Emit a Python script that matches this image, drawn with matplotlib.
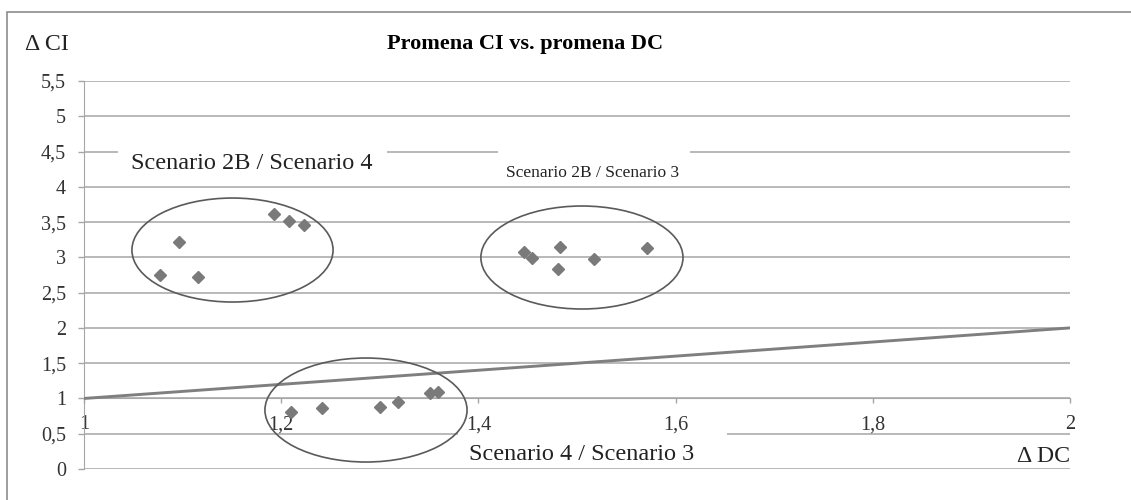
import numpy as np
import matplotlib
matplotlib.use('Agg')
from matplotlib import pyplot as plt
from matplotlib.patches import Ellipse, Rectangle
from matplotlib.ticker import FuncFormatter

# Promena CI vs. promena DC - three scenario comparisons
g1_x = [1.077, 1.096, 1.116, 1.193, 1.208, 1.223]   # Scenario 2B / Scenario 4
g1_y = [2.75, 3.22, 2.72, 3.61, 3.51, 3.46]
g2_x = [1.446, 1.454, 1.483, 1.481, 1.517, 1.571]   # Scenario 2B / Scenario 3
g2_y = [3.07, 2.99, 3.14, 2.83, 2.97, 3.13]
g3_x = [1.210, 1.241, 1.300, 1.318, 1.351, 1.359]   # Scenario 4 / Scenario 3
g3_y = [0.81, 0.86, 0.88, 0.945, 1.08, 1.087]
ref_x = [1, 2]
ref_y = [1, 2]

x_ticks = [1, 1.2, 1.4, 1.6, 1.8, 2]
y_ticks = [0, 0.5, 1, 1.5, 2, 2.5, 3, 3.5, 4, 4.5, 5, 5.5]

# group ellipses (center x, center y, width, height) in data units
ellipses = [(1.1506, 3.104, 0.204, 1.474),
            (1.505, 2.998, 0.205, 1.46),
            (1.286, 0.836, 0.205, 1.474)]

W, H = 1131, 500
plt.rcParams['font.family'] = ['Liberation Serif', 'DejaVu Serif']

fig = plt.figure(figsize=(W / 100, H / 100), dpi=100)
ax = fig.add_axes([84 / W, 1 - 469 / H, (1070 - 84) / W, (469 - 81) / H])


def px_rect(x0, y0, x1, y1):
    # white box in figure pixels (top-down)
    r = Rectangle((x0 / W, 1 - y1 / H), (x1 - x0) / W, (y1 - y0) / H,
                  transform=fig.transFigure, facecolor='white', edgecolor='none', zorder=1)
    ax.add_artist(r)
    r.set_clip_on(False)


gc = '#a6a6a6'
ax.hlines(y_ticks, 1, 2, colors=gc, lw=1.1, zorder=0.5)

px_rect(118, 145, 387, 184)
px_rect(498, 146, 690, 185)
px_rect(458, 425, 727, 466)

ax.plot(ref_x, ref_y, color='#7f7f7f', lw=2.1, zorder=3, solid_capstyle='butt')
for gx, gy in [(g1_x, g1_y), (g2_x, g2_y), (g3_x, g3_y)]:
    ax.plot(gx, gy, ls='none', marker='D', ms=6.5, color='#7a7a7a', zorder=4)

for cx, cy, ew, eh in ellipses:
    ax.add_patch(Ellipse((cx, cy), ew, eh, fill=False, edgecolor='#5a5a5a', lw=1.2, zorder=5))

ax.set_xlim(1, 2)
ax.set_ylim(0, 5.5)
ax.set_xticks(x_ticks)
ax.set_yticks(y_ticks)
fmt = FuncFormatter(lambda v, p: ('%g' % v).replace('.', ','))
ax.xaxis.set_major_formatter(fmt)
ax.yaxis.set_major_formatter(fmt)

for s in ['top', 'right']:
    ax.spines[s].set_visible(False)
ax.spines['left'].set_color(gc)
ax.spines['bottom'].set_color(gc)
ax.spines['bottom'].set_position(('data', 1))
ax.spines['bottom'].set_zorder(0.6)
ax.tick_params(axis='y', direction='out', length=4.5, width=1, color=gc,
               labelsize=14.5, labelcolor='#333333', pad=8.5)
ax.tick_params(axis='x', direction='out', length=3.5, width=1, color=gc,
               labelsize=14.5, labelcolor='#333333', pad=8.5)
ax.set_facecolor('none')

fig.text(525 / W, 1 - 44 / H, 'Promena CI vs. promena DC', ha='center', va='center',
         fontsize=16, fontweight='bold')
fig.text(25 / W, 1 - 45 / H, 'Δ CI', ha='left', va='center', fontsize=17.2, color='#222222')
fig.text(1070 / W, 1 - 457 / H, 'Δ DC', ha='right', va='center', fontsize=17.2, color='#222222')
fig.text(252 / W, 1 - 163 / H, 'Scenario 2B / Scenario 4', ha='center', va='center',
         fontsize=17.5, color='#222222', zorder=6)
fig.text(593 / W, 1 - 173 / H, 'Scenario 2B / Scenario 3', ha='center', va='center',
         fontsize=12.5, color='#222222', zorder=6)
fig.text(582 / W, 1 - 455 / H, 'Scenario 4 / Scenario 3', ha='center', va='center',
         fontsize=17.5, color='#222222', zorder=6)

# outer chart border
fig.patches.append(Rectangle((7 / W, -0.1), 1.2, 1.1 - 12 / H, transform=fig.transFigure,
                             fill=False, edgecolor='#8c8c8c', lw=1.2))

fig.savefig('out.png', dpi=100)
